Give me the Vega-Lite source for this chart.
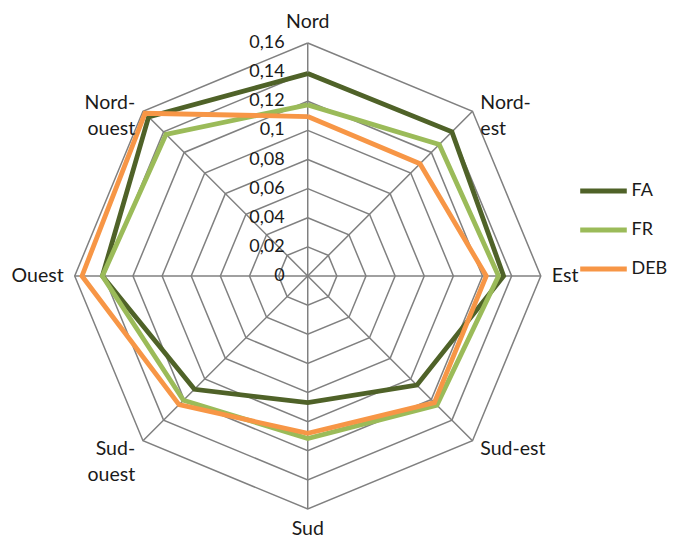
{
  "$schema": "https://vega.github.io/schema/vega-lite/v6.json",
  "width": 673,
  "height": 549,
  "autosize": "none",
  "padding": 0,
  "config": {
    "view": {"stroke": null},
    "locale": {"number": {"decimal": ",", "thousands": " ", "grouping": [3], "currency": ["", " €"]}}
  },
  "datasets": {
    "series": [
      {"s": "FA", "dir": "Nord", "k": 0, "v": 0.139},
      {"s": "FA", "dir": "Nord-est", "k": 1, "v": 0.140},
      {"s": "FA", "dir": "Est", "k": 2, "v": 0.1345},
      {"s": "FA", "dir": "Sud-est", "k": 3, "v": 0.106},
      {"s": "FA", "dir": "Sud", "k": 4, "v": 0.087},
      {"s": "FA", "dir": "Sud-ouest", "k": 5, "v": 0.110},
      {"s": "FA", "dir": "Ouest", "k": 6, "v": 0.141},
      {"s": "FA", "dir": "Nord-ouest", "k": 7, "v": 0.1545},
      {"s": "FA", "dir": "Nord", "k": 8, "v": 0.139},
      {"s": "FR", "dir": "Nord", "k": 0, "v": 0.1175},
      {"s": "FR", "dir": "Nord-est", "k": 1, "v": 0.1277},
      {"s": "FR", "dir": "Est", "k": 2, "v": 0.131},
      {"s": "FR", "dir": "Sud-est", "k": 3, "v": 0.1254},
      {"s": "FR", "dir": "Sud", "k": 4, "v": 0.1116},
      {"s": "FR", "dir": "Sud-ouest", "k": 5, "v": 0.1207},
      {"s": "FR", "dir": "Ouest", "k": 6, "v": 0.141},
      {"s": "FR", "dir": "Nord-ouest", "k": 7, "v": 0.1376},
      {"s": "FR", "dir": "Nord", "k": 8, "v": 0.1175},
      {"s": "DEB", "dir": "Nord", "k": 0, "v": 0.1095},
      {"s": "DEB", "dir": "Nord-est", "k": 1, "v": 0.109},
      {"s": "DEB", "dir": "Est", "k": 2, "v": 0.1226},
      {"s": "DEB", "dir": "Sud-est", "k": 3, "v": 0.123},
      {"s": "DEB", "dir": "Sud", "k": 4, "v": 0.108},
      {"s": "DEB", "dir": "Sud-ouest", "k": 5, "v": 0.125},
      {"s": "DEB", "dir": "Ouest", "k": 6, "v": 0.155},
      {"s": "DEB", "dir": "Nord-ouest", "k": 7, "v": 0.158},
      {"s": "DEB", "dir": "Nord", "k": 8, "v": 0.1095}
    ],
    "rings": [
      {"r": 0, "k": []},
      {"r": 0.02, "k": [0, 1, 2, 3, 4, 5, 6, 7, 8]},
      {"r": 0.04, "k": [0, 1, 2, 3, 4, 5, 6, 7, 8]},
      {"r": 0.06, "k": [0, 1, 2, 3, 4, 5, 6, 7, 8]},
      {"r": 0.08, "k": [0, 1, 2, 3, 4, 5, 6, 7, 8]},
      {"r": 0.1, "k": [0, 1, 2, 3, 4, 5, 6, 7, 8]},
      {"r": 0.12, "k": [0, 1, 2, 3, 4, 5, 6, 7, 8]},
      {"r": 0.14, "k": [0, 1, 2, 3, 4, 5, 6, 7, 8]},
      {"r": 0.16, "k": [0, 1, 2, 3, 4, 5, 6, 7, 8]}
    ],
    "dirs": [
      {"k": 0, "lab": "Nord"},
      {"k": 1, "lab": "Nord-\nest"},
      {"k": 2, "lab": "Est"},
      {"k": 3, "lab": "Sud-est"},
      {"k": 4, "lab": "Sud"},
      {"k": 5, "lab": "Sud-\nouest"},
      {"k": 6, "lab": "Ouest"},
      {"k": 7, "lab": "Nord-\nouest"}
    ]
  },
  "encoding": {
    "x": {"field": "x", "type": "quantitative", "scale": {"domain": [-0.2113, 0.2508], "nice": false, "zero": false}, "axis": null},
    "y": {"field": "y", "type": "quantitative", "scale": {"domain": [-0.18747, 0.18953], "nice": false, "zero": false}, "axis": null}
  },
  "layer": [
    {
      "data": {"name": "rings"},
      "transform": [
        {"flatten": ["k"]},
        {"calculate": "datum.r*sin(datum.k*PI/4)", "as": "x"},
        {"calculate": "datum.r*cos(datum.k*PI/4)", "as": "y"}
      ],
      "mark": {"type": "line", "stroke": "#808080", "strokeWidth": 1.5},
      "encoding": {
        "detail": {"field": "r", "type": "nominal"},
        "order": {"field": "k", "type": "quantitative"}
      }
    },
    {
      "data": {"name": "dirs"},
      "transform": [
        {"calculate": "0.16*sin(datum.k*PI/4)", "as": "x"},
        {"calculate": "0.16*cos(datum.k*PI/4)", "as": "y"}
      ],
      "mark": {"type": "rule", "stroke": "#808080", "strokeWidth": 1.5},
      "encoding": {"x2": {"datum": 0}, "y2": {"datum": 0}}
    },
    {
      "data": {"name": "series"},
      "transform": [
        {"calculate": "datum.v*sin(datum.k*PI/4)", "as": "x"},
        {"calculate": "datum.v*cos(datum.k*PI/4)", "as": "y"}
      ],
      "mark": {"type": "line", "strokeWidth": 4.8},
      "encoding": {
        "color": {
          "field": "s", "type": "nominal",
          "scale": {"domain": ["FA", "FR", "DEB"], "range": ["#4F6228", "#9BBB59", "#F79646"]},
          "legend": {
            "orient": "none", "legendX": 577.5, "legendY": 165, "title": null,
            "symbolType": "stroke", "symbolSize": 2170, "symbolStrokeWidth": 5,
            "labelFont": "Lato", "labelFontSize": 18, "labelColor": "#1a1a1a",
            "rowPadding": 3, "labelOffset": 2, "padding": 0
          }
        },
        "order": {"field": "k", "type": "quantitative"}
      }
    },
    {
      "data": {"name": "rings"},
      "transform": [
        {"calculate": "0", "as": "x"},
        {"calculate": "datum.r", "as": "y"}
      ],
      "mark": {"type": "text", "align": "right", "baseline": "middle", "dx": -23, "font": "Lato", "fontSize": 18, "color": "#1a1a1a"},
      "encoding": {"text": {"field": "r", "type": "quantitative", "format": "~g"}}
    },
    {
      "data": {"name": "dirs"},
      "transform": [
        {"calculate": "0.1676*sin(datum.k*PI/4)", "as": "x"},
        {"calculate": "0.1676*cos(datum.k*PI/4)", "as": "y"}
      ],
      "mark": {
        "type": "text", "font": "Lato", "fontSize": 19.5, "color": "#1a1a1a", "lineBreak": "\n", "lineHeight": 26,
        "align": {"expr": "datum.k == 0 || datum.k == 4 ? 'center' : (datum.k < 4 ? 'left' : 'right')"},
        "baseline": {"expr": "datum.k == 0 ? 'bottom' : (datum.k == 4 ? 'top' : 'middle')"}
      },
      "encoding": {"text": {"field": "lab", "type": "nominal"}}
    }
  ]
}
